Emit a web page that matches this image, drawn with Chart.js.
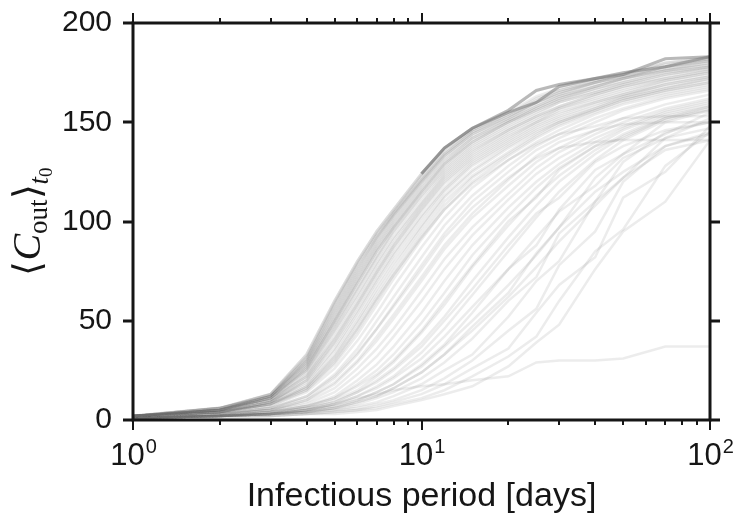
<!DOCTYPE html>
<html>
<head>
<meta charset="utf-8">
<script src="https://cdn.jsdelivr.net/npm/chart.js@4.4.0/dist/chart.umd.min.js"></script>
<style>
    html, body { margin: 0; padding: 0; background: #fff; }
    #wrap { width: 738px; height: 515px; }
</style>
</head>
<body>
<div id="wrap"><canvas id="chart" width="738" height="515"></canvas></div>
<script>
// === data ===
const days = [1, 2, 3, 4, 5, 6, 7, 8, 10, 12, 15, 20, 25, 30, 40, 50, 70, 100];

// the two runs that form the dark upper edge
const topRuns = [
    [2, 6, 13, 33, 60, 80, 95, 106, 124, 137, 147, 156, 166, 169, 172, 174, 182, 183],
    [2, 6, 13, 33, 60, 80, 95, 106, 124, 137, 147, 155, 160, 168, 172, 175, 178, 183],
];

// dense bundle hugging the edge
const edgeRuns = [
    [2, 6, 13, 32, 59, 79, 94, 105, 123, 136, 146, 155, 163, 167, 171, 174, 180, 183],
    [2, 6, 13, 31, 58, 78, 93, 104, 122, 135, 146, 154, 162, 166, 171, 174, 179, 182],
    [2, 6, 12, 31, 57, 77, 92, 103, 121, 134, 145, 154, 161, 166, 170, 173, 178, 182],
    [2, 6, 12, 30, 55, 75, 91, 103, 120, 133, 144, 153, 160, 165, 170, 173, 178, 181],
    [2, 5, 12, 29, 53, 73, 89, 101, 119, 132, 143, 152, 159, 164, 169, 172, 177, 181],
    [2, 5, 12, 28, 51, 71, 87, 99, 117, 130, 142, 151, 158, 163, 168, 172, 176, 180],
    [2, 5, 11, 27, 49, 69, 85, 97, 115, 129, 141, 150, 157, 162, 167, 171, 176, 179],
    [2, 5, 11, 26, 48, 67, 83, 96, 114, 127, 139, 149, 156, 161, 166, 170, 175, 178],
    [2, 5, 11, 25, 46, 65, 81, 94, 112, 125, 137, 147, 154, 160, 165, 169, 174, 178],
    [2, 5, 10, 23, 44, 62, 78, 91, 109, 123, 135, 146, 153, 158, 164, 168, 173, 177],
    [2, 5, 10, 22, 41, 59, 75, 88, 107, 121, 133, 144, 151, 157, 163, 167, 172, 176],
    [2, 4, 9, 21, 40, 58, 74, 87, 106, 120, 132, 143, 150, 156, 161, 165, 171, 175],
    [2, 4, 9, 20, 38, 55, 71, 84, 103, 117, 130, 141, 149, 154, 160, 164, 170, 174],
    [2, 4, 9, 18, 35, 52, 68, 81, 100, 115, 128, 139, 147, 152, 158, 163, 169, 173],
    [2, 4, 8, 17, 32, 49, 64, 77, 97, 112, 125, 137, 145, 150, 157, 162, 167, 172],
    [2, 4, 8, 15, 29, 45, 60, 73, 93, 108, 122, 134, 143, 149, 156, 161, 166, 170],
];

// next layer of the bundle
const fastRuns = [
    [2, 6, 12, 30, 56, 76, 92, 104, 121, 134, 145, 153, 160, 165, 170, 173, 177, 180],
    [2, 5, 12, 28, 52, 72, 88, 100, 118, 131, 142, 151, 158, 163, 168, 172, 176, 179],
    [2, 5, 11, 26, 50, 70, 86, 98, 116, 129, 140, 150, 156, 161, 167, 170, 175, 178],
    [2, 5, 11, 25, 47, 66, 82, 95, 113, 126, 138, 148, 155, 160, 165, 169, 174, 177],
    [2, 5, 10, 24, 45, 63, 79, 92, 110, 124, 136, 146, 153, 158, 164, 168, 172, 176],
    [2, 5, 10, 22, 42, 60, 76, 89, 108, 122, 134, 145, 152, 157, 162, 166, 171, 175],
    [2, 4, 9, 20, 39, 57, 73, 86, 105, 119, 131, 142, 150, 155, 160, 164, 169, 173],
    [2, 4, 9, 19, 36, 54, 70, 83, 102, 116, 129, 140, 148, 153, 159, 163, 168, 172],
    [2, 4, 8, 17, 33, 50, 66, 79, 98, 113, 126, 138, 146, 151, 157, 162, 167, 171],
    [2, 4, 8, 16, 31, 47, 62, 75, 95, 110, 123, 135, 144, 150, 156, 161, 166, 170],
    [2, 4, 7, 15, 28, 43, 58, 71, 91, 106, 120, 133, 142, 148, 155, 160, 165, 169],
    [2, 4, 7, 14, 26, 40, 54, 67, 87, 102, 117, 131, 140, 146, 154, 159, 164, 168],
    [1, 3, 6, 12, 23, 36, 50, 62, 82, 98, 113, 128, 138, 144, 152, 157, 163, 167],
    [1, 3, 6, 11, 21, 33, 46, 58, 78, 94, 110, 125, 136, 142, 150, 156, 162, 166],
    [2, 5, 12, 29, 54, 74, 90, 102, 120, 133, 144, 152, 160, 164, 170, 174, 180, 182],
    [2, 5, 11, 27, 50, 69, 85, 97, 115, 128, 140, 150, 157, 162, 168, 172, 178, 181],
];

// runs that take off later
const midRuns = [
    [1, 3, 5, 10, 18, 29, 40, 51, 70, 86, 102, 118, 130, 137, 146, 152, 159, 164],
    [1, 3, 5, 9, 16, 26, 36, 46, 65, 81, 97, 114, 127, 135, 144, 150, 157, 162],
    [1, 3, 5, 8, 14, 23, 32, 42, 60, 76, 93, 111, 124, 132, 142, 148, 156, 161],
    [1, 2, 4, 7, 12, 20, 28, 37, 54, 70, 88, 107, 120, 129, 140, 147, 155, 160],
    [1, 2, 4, 7, 11, 18, 25, 33, 49, 64, 83, 103, 117, 127, 138, 146, 154, 159],
    [1, 2, 4, 6, 10, 15, 22, 29, 44, 58, 77, 98, 113, 123, 136, 144, 153, 158],
    [1, 2, 4, 6, 9, 14, 20, 26, 39, 52, 70, 92, 108, 120, 134, 143, 152, 158],
    [1, 2, 3, 5, 8, 12, 17, 22, 34, 46, 63, 85, 102, 115, 131, 141, 151, 157],
    [1, 2, 4, 7, 11, 17, 23, 30, 45, 60, 78, 100, 112, 126, 138, 142, 152, 156],
    [1, 2, 3, 6, 9, 14, 19, 25, 37, 50, 66, 88, 104, 112, 130, 138, 146, 150],
    [1, 2, 3, 5, 8, 12, 16, 21, 31, 42, 57, 76, 92, 105, 118, 132, 142, 147],
    [1, 2, 3, 5, 7, 10, 14, 18, 27, 37, 50, 68, 83, 97, 115, 125, 138, 144],
    [1, 2, 3, 4, 6, 9, 12, 16, 24, 33, 45, 62, 77, 90, 108, 122, 136, 141],
];

// slow, step-like runs on the right
const slowRuns = [
    [1, 2, 3, 5, 7, 10, 14, 18, 28, 38, 54, 76, 88, 106, 126, 134, 150, 156],
    [1, 2, 3, 4, 6, 9, 12, 16, 24, 33, 47, 64, 84, 97, 122, 134, 144, 155],
    [1, 2, 3, 4, 6, 8, 11, 14, 21, 29, 41, 60, 72, 94, 110, 130, 145, 150],
    [1, 2, 3, 4, 5, 7, 9, 12, 18, 25, 33, 52, 70, 80, 110, 122, 142, 152],
    [1, 2, 3, 4, 5, 6, 8, 10, 15, 21, 30, 45, 56, 78, 95, 120, 138, 145],
    [1, 2, 2, 3, 4, 5, 7, 9, 13, 18, 26, 36, 54, 68, 82, 112, 125, 148],
    [1, 2, 2, 3, 4, 5, 6, 8, 11, 15, 22, 32, 42, 60, 85, 96, 128, 145],
    [1, 1, 2, 3, 3, 4, 5, 7, 10, 13, 17, 27, 39, 48, 76, 95, 110, 141],
];

// runs that flatten out below the top
const plateauRuns = [
    [1, 3, 6, 12, 22, 34, 46, 57, 76, 92, 107, 122, 132, 137, 140, 141, 141, 141],
    [1, 3, 5, 10, 19, 30, 42, 53, 72, 88, 104, 121, 133, 140, 146, 149, 150, 150],
    [2, 4, 8, 16, 30, 46, 61, 73, 92, 106, 119, 131, 139, 144, 148, 152, 153, 153],
];

// the lone low run
const lowRun = [1, 2, 3, 5, 8, 11, 13, 15, 17, 18, 20, 22, 29, 30, 30, 31, 37, 37];

const yTicks = [0, 50, 100, 150, 200];
const xMajor = [1, 10, 100];
const xMinor = [2, 3, 4, 5, 6, 7, 8, 9, 20, 30, 40, 50, 60, 70, 80, 90];
const xExp = ['0', '1', '2'];

const SANS = "'Liberation Sans', Arial, Helvetica, sans-serif";
const SERIF = "'Liberation Serif', 'Times New Roman', serif";
const INK = '#161616';

// === datasets ===
const faint = 'rgba(110, 110, 110, 0.13)';
const edge = 'rgba(115, 115, 115, 0.5)';

function makeSet(vals, color, width) {
    return {
        data: vals.map((v, i) => ({ x: days[i], y: v })),
        borderColor: color,
        borderWidth: width,
        pointRadius: 0,
        fill: false,
        tension: 0,
    };
}

const datasets = [];
topRuns.forEach(r => {
    const ds = makeSet(r, edge, 3);
    // the edge only stands out once the bundle flattens
    ds.segment = { borderColor: c => (c.p0.parsed.x < 10 ? faint : edge) };
    datasets.push(ds);
});
[edgeRuns, fastRuns, midRuns, slowRuns, plateauRuns].forEach(group => {
    group.forEach(r => datasets.push(makeSet(r, faint, 2.5)));
});
datasets.push(makeSet(lowRun, faint, 2.5));

// === y title: <C_out>_{t0} ===
function drawYTitle(ctx, cx, cy) {
    const parts = [
        { t: '\u27E8', font: '38px ' + SERIF, dy: 0 },
        { t: 'C', font: 'italic 40px ' + SERIF, dy: 0 },
        { t: 'out', font: '27px ' + SERIF, dy: 7 },
        { t: '\u27E9', font: '38px ' + SERIF, dy: 0 },
        { t: 't', font: 'italic 27px ' + SERIF, dy: 8 },
        { t: '0', font: '19px ' + SERIF, dy: 12 },
    ];
    let total = 0;
    parts.forEach(p => { ctx.font = p.font; p.w = ctx.measureText(p.t).width; total += p.w; });
    ctx.save();
    ctx.translate(cx, cy);
    ctx.rotate(-Math.PI / 2);
    ctx.fillStyle = INK;
    ctx.textBaseline = 'alphabetic';
    ctx.textAlign = 'left';
    let x = -total / 2;
    parts.forEach(p => {
        ctx.font = p.font;
        ctx.fillText(p.t, x, p.dy);
        x += p.w;
    });
    ctx.restore();
}

// === frame, ticks and labels ===
const framePlugin = {
    id: 'frame',
    afterDatasetsDraw(chart) {
        const { ctx, chartArea: a, scales } = chart;
        const xs = scales.x, ys = scales.y;
        ctx.save();
        ctx.strokeStyle = INK;
        ctx.lineCap = 'butt';

        // x ticks, bottom and top
        ctx.lineWidth = 2;
        const xTick = (v, len) => {
            const px = Math.round(xs.getPixelForValue(v));
            ctx.beginPath();
            ctx.moveTo(px, a.bottom); ctx.lineTo(px, a.bottom + len);
            ctx.moveTo(px, a.top); ctx.lineTo(px, a.top - len);
            ctx.stroke();
        };
        xMajor.forEach(v => xTick(v, 10));
        xMinor.forEach(v => xTick(v, 5));

        // y ticks, left and right
        ctx.lineWidth = 3;
        yTicks.forEach(v => {
            const py = Math.round(ys.getPixelForValue(v));
            ctx.beginPath();
            ctx.moveTo(a.left - 10, py); ctx.lineTo(a.left, py);
            ctx.moveTo(a.right, py); ctx.lineTo(a.right + 10, py);
            ctx.stroke();
        });

        // box
        ctx.lineWidth = 3;
        ctx.strokeRect(a.left, a.top, a.right - a.left, a.bottom - a.top);

        // x tick labels 10^k
        ctx.fillStyle = INK;
        ctx.textBaseline = 'alphabetic';
        ctx.textAlign = 'left';
        xMajor.forEach((v, i) => {
            const px = xs.getPixelForValue(v);
            ctx.font = '31px ' + SANS;
            const wb = ctx.measureText('10').width;
            ctx.font = '20px ' + SANS;
            const we = ctx.measureText(xExp[i]).width;
            const x0 = px - (wb + we) / 2;
            ctx.font = '31px ' + SANS;
            ctx.fillText('10', x0, 465);
            ctx.font = '20px ' + SANS;
            ctx.fillText(xExp[i], x0 + wb + 1, 453);
        });

        // x title
        ctx.font = '34px ' + SANS;
        ctx.textAlign = 'center';
        ctx.fillText('Infectious period [days]', (a.left + a.right) / 2, 506);

        drawYTitle(ctx, 40, (a.top + a.bottom) / 2);
        ctx.restore();
    }
};

// === chart ===
Chart.defaults.font.family = SANS;

new Chart(document.getElementById('chart').getContext('2d'), {
    type: 'line',
    data: { datasets: datasets },
    options: {
        responsive: false,
        animation: false,
        layout: { padding: { top: 23, right: 28, left: 0, bottom: 0 } },
        plugins: {
            legend: { display: false },
            tooltip: { enabled: false },
        },
        scales: {
            x: {
                type: 'logarithmic',
                min: 1,
                max: 100,
                ticks: { display: false },
                grid: { display: false, drawTicks: false },
                border: { display: false },
                afterFit: s => { s.height = 95; s.paddingLeft = 0; s.paddingRight = 0; },
            },
            y: {
                min: 0,
                max: 200,
                afterBuildTicks: s => { s.ticks = yTicks.map(v => ({ value: v })); },
                ticks: { font: { size: 30 }, color: INK, padding: 21 },
                grid: { display: false, drawTicks: false },
                border: { display: false },
                afterFit: s => { s.width = 133; s.paddingTop = 0; s.paddingBottom = 0; },
            },
        },
    },
    plugins: [framePlugin],
});
</script>
</body>
</html>
